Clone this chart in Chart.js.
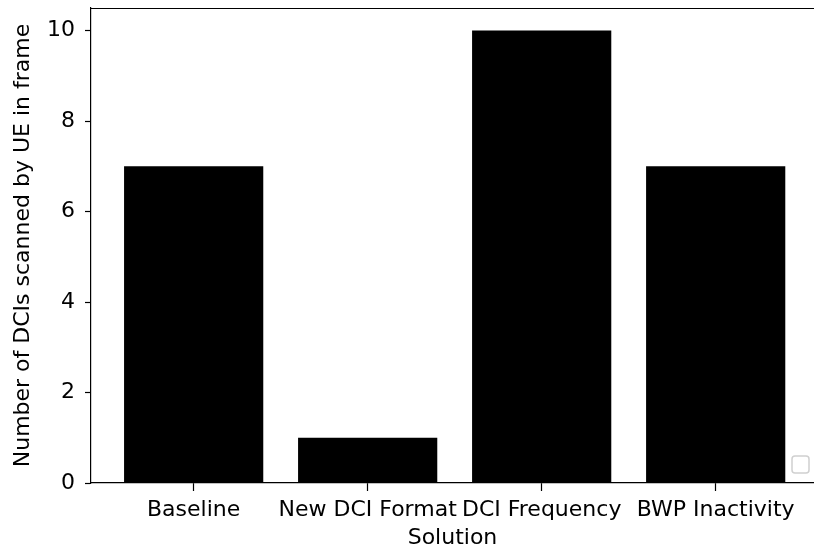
<!DOCTYPE html>
<html>
<head>
<meta charset="utf-8">
<script src="https://cdn.jsdelivr.net/npm/chart.js@4.4.1/dist/chart.umd.min.js"></script>
<style>
  html, body { margin: 0; padding: 0; background: #fff; overflow: hidden; }
</style>
</head>
<body>
<canvas id="dciChart" width="814" height="551"></canvas>
<script>
// values
const categories = ["Baseline", "New DCI Format", "DCI Frequency", "BWP Inactivity"];
const dciCounts = [7, 1, 10, 7];
const yTicks = [0, 2, 4, 6, 8, 10];

const FONT = "'DejaVu Sans', sans-serif";

// top spine + empty legend box (matplotlib look)
const framePlugin = {
  id: "frame",
  afterDraw(chart) {
    const { ctx, chartArea } = chart;
    ctx.save();
    ctx.strokeStyle = "#000";
    ctx.lineWidth = 1.2;
    ctx.beginPath();
    ctx.moveTo(chartArea.left, chartArea.top + 0.5);
    ctx.lineTo(chartArea.right, chartArea.top + 0.5);
    ctx.stroke();

    // empty legend
    const x = 792, y = chartArea.bottom - 27, w = 17, h = 17, r = 3;
    ctx.fillStyle = "rgba(255,255,255,0.8)";
    ctx.strokeStyle = "#d0d0d0";
    ctx.lineWidth = 1.5;
    ctx.beginPath();
    ctx.roundRect(x, y, w, h, r);
    ctx.fill();
    ctx.stroke();
    ctx.restore();
  }
};

new Chart(document.getElementById("dciChart"), {
  type: "bar",
  data: {
    datasets: [{
      data: dciCounts.map((v, i) => ({ x: i, y: v })),
      backgroundColor: "#000",
      borderWidth: 0,
      barPercentage: 0.8,
      categoryPercentage: 1.0
    }]
  },
  options: {
    responsive: false,
    animation: false,
    layout: { padding: { top: 8, right: 0, left: 10, bottom: 0 } },
    plugins: {
      legend: { display: false },
      tooltip: { enabled: false }
    },
    scales: {
      x: {
        type: "linear",
        offset: false,
        min: -0.59,
        max: 3.565,
        afterBuildTicks: (scale) => {
          scale.ticks = categories.map((c, i) => ({ value: i }));
        },
        afterFit: (scale) => {
          scale.height = 68;
          scale.paddingLeft = 0;
          scale.paddingRight = 0;
        },
        grid: { display: true, offset: false, drawOnChartArea: false, tickLength: 8, color: "#000", tickWidth: 1.2 },
        border: { display: true, color: "#000", width: 1.2 },
        ticks: {
          autoSkip: false,
          maxRotation: 0,
          padding: 6,
          color: "#000",
          font: { family: FONT, size: 22 },
          callback: (v) => categories[v]
        },
        title: {
          display: true,
          text: "Solution",
          color: "#000",
          font: { family: FONT, size: 22 },
          padding: { top: 3, bottom: 0 }
        }
      },
      y: {
        min: 0,
        max: 10.5,
        afterBuildTicks: (scale) => {
          scale.ticks = yTicks.map((v) => ({ value: v }));
        },
        afterFit: (scale) => {
          scale.width = 81;
          scale.paddingTop = 0;
          scale.paddingBottom = 0;
        },
        grid: { display: true, drawOnChartArea: false, tickLength: 6, color: "#000", tickWidth: 1.2 },
        border: { display: true, color: "#000", width: 1.2 },
        ticks: {
          padding: 10,
          color: "#000",
          font: { family: FONT, size: 22 }
        },
        title: {
          display: true,
          text: "Number of DCIs scanned by UE in frame",
          color: "#000",
          font: { family: FONT, size: 22 },
          padding: { top: 0, bottom: 0 }
        }
      }
    }
  },
  plugins: [framePlugin]
});
</script>
</body>
</html>
